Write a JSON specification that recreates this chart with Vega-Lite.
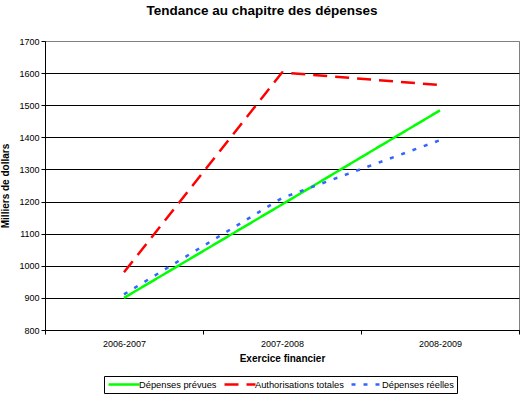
{
  "$schema": "https://vega.github.io/schema/vega-lite/v6.json",
  "width": 474,
  "height": 289,
  "autosize": {"type": "none"},
  "padding": {"left": 45, "top": 41, "right": 4, "bottom": 67},
  "background": "white",
  "config": {
    "font": "Liberation Sans",
    "view": {"stroke": "#808080", "strokeWidth": 1}
  },
  "title": {
    "text": "Tendance au chapitre des dépenses",
    "font": "Liberation Sans",
    "fontSize": 13.5,
    "fontWeight": "bold",
    "color": "black",
    "anchor": "middle",
    "dx": -20,
    "offset": 20
  },
  "data": {
    "values": [
      {"exercice": "2006-2007", "serie": "Dépenses prévues", "valeur": 900},
      {"exercice": "2007-2008", "serie": "Dépenses prévues", "valeur": 1191},
      {"exercice": "2008-2009", "serie": "Dépenses prévues", "valeur": 1484},
      {"exercice": "2006-2007", "serie": "Authorisations totales", "valeur": 980},
      {"exercice": "2007-2008", "serie": "Authorisations totales", "valeur": 1602},
      {"exercice": "2008-2009", "serie": "Authorisations totales", "valeur": 1563},
      {"exercice": "2006-2007", "serie": "Dépenses réelles", "valeur": 911},
      {"exercice": "2007-2008", "serie": "Dépenses réelles", "valeur": 1211},
      {"exercice": "2008-2009", "serie": "Dépenses réelles", "valeur": 1391}
    ]
  },
  "mark": {"type": "line", "strokeWidth": 2.5},
  "encoding": {
    "x": {
      "field": "exercice",
      "type": "ordinal",
      "bandPosition": 0.5,
      "scale": {"type": "band", "paddingInner": 0, "paddingOuter": 0},
      "axis": {
        "title": "Exercice financier",
        "titleFontSize": 10,
        "titleFontWeight": "bold",
        "titleColor": "black",
        "titlePadding": 5,
        "labelAngle": 0,
        "labelFontSize": 9,
        "labelColor": "black",
        "labelPadding": 5,
        "tickBand": "extent",
        "tickColor": "black",
        "tickSize": 4,
        "domainColor": "black",
        "grid": false
      }
    },
    "y": {
      "field": "valeur",
      "type": "quantitative",
      "scale": {"domain": [800, 1700], "nice": false, "zero": false},
      "axis": {
        "title": "Milliers de dollars",
        "titleFontSize": 10,
        "titleFontWeight": "bold",
        "titleColor": "black",
        "titlePadding": 8,
        "values": [800, 900, 1000, 1100, 1200, 1300, 1400, 1500, 1600, 1700],
        "format": "d",
        "labelFontSize": 9,
        "labelColor": "black",
        "labelPadding": 2,
        "tickColor": "black",
        "tickSize": 4,
        "domainColor": "black",
        "grid": true,
        "gridColor": {"condition": {"test": "datum.value == 1700", "value": "#808080"}, "value": "black"},
        "gridOpacity": 1
      }
    },
    "color": {
      "field": "serie",
      "type": "nominal",
      "scale": {
        "domain": ["Dépenses prévues", "Authorisations totales", "Dépenses réelles"],
        "range": ["#00ff00", "#ff0000", "#3366ff"]
      },
      "legend": {
        "title": null,
        "orient": "none",
        "legendX": 59,
        "legendY": 335,
        "direction": "horizontal",
        "columns": 3,
        "strokeColor": "black",
        "padding": 3,
        "symbolType": "M-1,0H6.75",
        "symbolSize": 64,
        "symbolStrokeWidth": 2.5,
        "labelFontSize": 9.3,
        "labelColor": "black",
        "labelOffset": 21,
        "columnPadding": 2
      }
    },
    "strokeDash": {
      "field": "serie",
      "type": "nominal",
      "scale": {
        "domain": ["Dépenses prévues", "Authorisations totales", "Dépenses réelles"],
        "range": [[1, 0], [14, 8], [4, 8]]
      },
      "legend": {
        "title": null,
        "orient": "none",
        "legendX": 59,
        "legendY": 335,
        "direction": "horizontal",
        "columns": 3,
        "strokeColor": "black",
        "padding": 3,
        "symbolType": "M-1,0H6.75",
        "symbolSize": 64,
        "symbolStrokeWidth": 2.5,
        "labelFontSize": 9.3,
        "labelColor": "black",
        "labelOffset": 21,
        "columnPadding": 2
      }
    }
  }
}
